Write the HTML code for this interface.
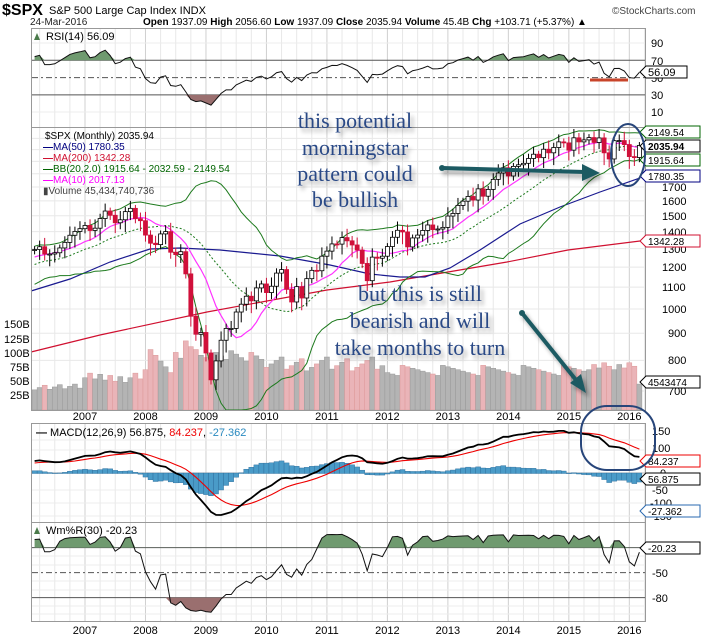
<!DOCTYPE html>
<html><head><meta charset="utf-8"><style>
body{margin:0;background:#fff;}
svg{display:block;font-family:"Liberation Sans",sans-serif;}
.ax{font-size:11px;fill:#000}
.ann{font-family:"Liberation Serif",serif;font-size:22px;fill:#2b4a86;text-anchor:middle}
</style></head><body>
<svg id="c" width="707" height="643" viewBox="0 0 707 643" xmlns="http://www.w3.org/2000/svg">
<defs><filter id="sh" x="-10%" y="-30%" width="130%" height="180%"><feGaussianBlur in="SourceAlpha" stdDeviation="2"/><feOffset dx="3" dy="4"/><feComponentTransfer><feFuncA type="linear" slope="0.35"/></feComponentTransfer><feMerge><feMergeNode/><feMergeNode in="SourceGraphic"/></feMerge></filter></defs>
<rect width="707" height="643" fill="#fff"/>
<g id="grid"></g>
<g id="data"></g>
<g fill="none" stroke="#999" stroke-width="1">
<rect x="31.5" y="28.5" width="614" height="99"/>
<rect x="31.5" y="127.5" width="614" height="283"/>
<rect x="31.5" y="423.5" width="614" height="99"/>
<rect x="31.5" y="522.5" width="614" height="99"/>
</g>
<text x="2" y="15" font-size="16" font-weight="bold">$SPX</text>
<text x="49" y="14" font-size="11">S&amp;P 500 Large Cap Index  INDX</text>
<text x="612" y="14" font-size="10" fill="#444">©StockCharts.com</text>
<text x="30" y="25" font-size="10" fill="#222">24-Mar-2016</text>
<text x="143" y="25" font-size="10"><tspan font-weight="bold">Open</tspan> 1937.09 <tspan font-weight="bold">High</tspan> 2056.60 <tspan font-weight="bold">Low</tspan> 1937.09 <tspan font-weight="bold">Close</tspan> 2035.94 <tspan font-weight="bold">Volume</tspan> 45.4B <tspan font-weight="bold">Chg</tspan> +103.71 (+5.37%) ▲</text>
<text x="46" y="40" font-size="11">RSI(14) 56.09</text>
<path d="M34 40 L37 33 L40 40Z" fill="#4a7a4a"/>
<g class="ax"><text x="651" y="47">90</text><text x="651" y="65">70</text><text x="651" y="82">50</text><text x="651" y="99">30</text><text x="651" y="116">10</text></g>
<path d="M640 72 L646 66 L687 66 L687 78 L646 78Z" fill="#fff" stroke="#000"/><text x="648" y="76" font-size="11">56.09</text>
<g font-size="10">
<text x="45" y="139">$SPX (Monthly) 2035.94</text>
<text x="43" y="150" fill="#000080"><tspan font-weight="bold">—</tspan>MA(50) 1780.35</text>
<text x="43" y="161" fill="#d01030"><tspan font-weight="bold">—</tspan>MA(200) 1342.28</text>
<text x="43" y="172" fill="#006400"><tspan font-weight="bold">—</tspan>BB(20,2.0) 1915.64 - 2032.59 - 2149.54</text>
<text x="43" y="183" fill="#ff00ff"><tspan font-weight="bold">—</tspan>MA(10) 2017.13</text>
<text x="43" y="194" fill="#444">▮Volume 45,434,740,736</text>
</g>
<g class="ax" font-size="10">
<text x="662" y="191">1700</text><text x="662" y="205">1600</text><text x="662" y="220">1500</text><text x="662" y="236">1400</text><text x="662" y="253">1300</text><text x="662" y="271">1200</text><text x="662" y="291">1100</text><text x="662" y="313">1000</text><text x="668" y="337">900</text><text x="668" y="364">800</text><text x="668" y="395">700</text>
<text x="4" y="328">150B</text><text x="4" y="343">125B</text><text x="4" y="357">100B</text><text x="10" y="371">75B</text><text x="10" y="385">50B</text><text x="10" y="399">25B</text>
</g>
<g font-size="10">
<path d="M640 132 L646 126 L700 126 L700 138 L646 138Z" fill="#fff" stroke="#006400"/><text x="648" y="136" fill="#000">2149.54</text>
<path d="M640 146 L646 140 L700 140 L700 152 L646 152Z" fill="#fff" stroke="#000"/><text x="648" y="150" font-weight="bold">2035.94</text>
<path d="M640 160 L646 154 L700 154 L700 166 L646 166Z" fill="#fff" stroke="#006400"/><text x="648" y="164">1915.64</text>
<path d="M640 176 L646 170 L700 170 L700 182 L646 182Z" fill="#fff" stroke="#000080"/><text x="648" y="180">1780.35</text>
<path d="M640 241 L646 235 L700 235 L700 247 L646 247Z" fill="#fff" stroke="#d01030"/><text x="648" y="245">1342.28</text>
<path d="M640 382 L646 376 L700 376 L700 388 L646 388Z" fill="#fff" stroke="#000"/><text x="648" y="386">4543474</text>
</g>
<g class="ax" text-anchor="middle" id="xl1"></g>
<text x="36" y="436" font-size="11"><tspan font-weight="bold">—</tspan> MACD(12,26,9) 56.875, <tspan fill="#e00">84.237</tspan>, <tspan fill="#2a8ac0">-27.362</tspan></text>
<g class="ax" font-size="10"><text x="652" y="435">150</text><text x="652" y="452">100</text><text x="660" y="477">0</text><text x="652" y="494">-50</text><text x="650" y="507">-100</text><text x="650" y="520">-150</text></g>
<g font-size="10">
<path d="M640 461 L646 455 L700 455 L700 467 L646 467Z" fill="#fff" stroke="#e00"/><text x="648" y="465">84.237</text>
<path d="M640 479 L646 473 L700 473 L700 485 L646 485Z" fill="#fff" stroke="#000"/><text x="648" y="483">56.875</text>
<path d="M640 511 L646 505 L700 505 L700 517 L646 517Z" fill="#fff" stroke="#2a6ab0"/><text x="648" y="515">-27.362</text>
</g>
<text x="46" y="534" font-size="11">Wm%R(30) -20.23</text>
<path d="M34 534 L37 527 L40 534Z" fill="#4a7a4a"/>
<g class="ax" font-size="10"><text x="652" y="577">-50</text><text x="652" y="602">-80</text></g>
<path d="M640 548 L646 542 L700 542 L700 554 L646 554Z" fill="#fff" stroke="#000"/><text x="648" y="552" font-size="10">-20.23</text>
<g class="ax" text-anchor="middle" id="xl2"></g>
<g filter="url(#sh)">
<text class="ann" x="355" y="128">this potential</text>
<text class="ann" x="355" y="155">morningstar</text>
<text class="ann" x="355" y="181">pattern could</text>
<text class="ann" x="355" y="207">be bullish</text>
<text class="ann" x="420" y="301">but this is still</text>
<text class="ann" x="420" y="328">bearish and will</text>
<text class="ann" x="420" y="355">take months to turn</text>
</g>
<g stroke="#1d5a62" stroke-width="4" fill="#1d5a62" filter="url(#sh)">
<line x1="442" y1="168" x2="585" y2="172"/><path d="M600 173 L582 164 L582 181Z" stroke="none"/>
<circle cx="442" cy="168" r="3" stroke="none"/>
<line x1="522" y1="313" x2="576" y2="380"/><path d="M586 393 L570 383 L581 374Z" stroke="none"/>
<circle cx="522" cy="313" r="3" stroke="none"/>
</g>
<g fill="none" stroke="#27457a" stroke-width="2">
<ellipse cx="628" cy="155" rx="17" ry="31"/>
<rect x="581" y="406" width="74" height="64" rx="26"/>
</g>
</svg>
<script>
const NS="http://www.w3.org/2000/svg";
function el(p,t,a){const e=document.createElementNS(NS,t);for(const k in a)e.setAttribute(k,a[k]);document.getElementById(p).appendChild(e);return e;}
const pre=[1101,1104,1114,1130,1174,1212,1181,1204,1181,1157,1192,1191,1234,1220,1228,1207,1249,1249,1280,1281,1294];
const c=[1295,1311,1270,1270,1277,1304,1336,1378,1401,1418,
1438,1407,1421,1482,1531,1503,1455,1474,1527,1549,1481,1468,
1379,1331,1323,1386,1400,1280,1267,1283,1165,969,896,903,
826,735,798,873,919,919,987,1021,1057,1036,1096,1115,
1074,1104,1169,1187,1089,1031,1102,1049,1141,1183,1181,1258,
1286,1327,1326,1364,1345,1321,1292,1219,1131,1253,1247,1258,
1312,1366,1408,1398,1310,1362,1379,1407,1441,1412,1416,1426,
1498,1515,1569,1598,1631,1606,1686,1633,1682,1757,1806,1848,
1783,1859,1872,1884,1924,1960,1931,2003,1972,2018,2068,2059,
1995,2105,2068,2086,2107,2063,2104,1972,1920,2079,2080,2044,1940,1932,2036];
const all=pre.concat(c), P=pre.length, N=c.length;
const X=i=>34.6+i*5.04;
const Y=p=>309-230*Math.log(p/1000);
for(let i=-2;i<N+2;i+=3){const x=X(i);if(x<32||x>645)continue;
 [[29,127],[128,410],[424,522],[523,621]].forEach(r=>el("grid","line",{x1:x,x2:x,y1:r[0],y2:r[1],stroke:i%12==10?"#d0d0d0":"#e8e8e8"}));}
[1100,1200,1300,1400,1500,1600,1700,1800,1900,2000,2100,1000,900,800,700].forEach(p=>el("grid","line",{x1:32,x2:645,y1:Y(p),y2:Y(p),stroke:"#e8e8e8"}));
[43,112,440,450,490,503,516,556,565,581,590,606,614].forEach(y=>el("grid","line",{x1:32,x2:645,y1:y,y2:y,stroke:"#ececec"}));
for(let yr=2007;yr<=2016;yr++){const x=X(10+(yr-2007)*12);
 let t=el("xl1","text",{x:x,y:420});t.textContent=yr;t=el("xl2","text",{x:x,y:634});t.textContent=yr;}
const vol=[];for(let i=0;i<N;i++){let v=40+((i*37)%11)-5;if(i>=10&&i<22)v=48+((i*13)%9)*2;if(i>=22&&i<34)v=65+((i*7)%9)*5+(i==30||i==31?40:0);if(i>=34&&i<46)v=85+((i*5)%7)*3;if(i>=46&&i<70)v=68+((i*11)%9)*3;if(i>=70)v=60+((i*7)%8)*2.5;if(i>=110)v=70+((i*3)%5)*3;v=Math.min(v,135);if(i==N-1)v=45;vol.push(v);}
for(let i=0;i<N;i++){const up=c[i]>=all[P+i-1];const h=vol[i]*0.576;el("data","rect",{x:X(i)-2.5,y:410-h,width:5,height:h,fill:up?"#b4b4b4":"#eab4b8",stroke:up?"#999":"#d99","stroke-width":0.5});}
function path(pts,a){let d="";pts.forEach((p,k)=>{if(p)d+=(d?"L":"M")+p[0].toFixed(1)+" "+p[1].toFixed(1);});a.d=d;a.fill="none";return el("data","path",a);}
path([[31,352],[100,335],[207,312],[327,290],[390,282],[448,272],[507,262],[568,250],[640,241]],{stroke:"#d01030","stroke-width":1.2});
path([[31,291],[70,279],[110,262],[150,249],[180,248],[220,250],[280,256],[330,265],[370,274],[400,277],[425,277],[450,268],[480,250],[520,224],[560,207],[600,192],[640,178]],{stroke:"#1a1a90","stroke-width":1.2});
const ma10=[],bbm=[],bbu=[],bbl=[];
for(let i=0;i<N;i++){const j=P+i;let s=0;for(let k=j-9;k<=j;k++)s+=all[k];ma10.push([X(i),Y(s/10)]);
 let m=0;for(let k=j-19;k<=j;k++)m+=all[k];m/=20;let v=0;for(let k=j-19;k<=j;k++)v+=(all[k]-m)**2;const sd=Math.sqrt(v/20);
 bbm.push([X(i),Y(m)]);bbu.push([X(i),Y(m+2*sd)]);bbl.push([X(i),Math.min(Y(Math.max(m-2*sd,300)),410)]);}
path(bbu,{stroke:"#1d7a1d","stroke-width":1});path(bbl,{stroke:"#1d7a1d","stroke-width":1});
path(bbm,{stroke:"#1d7a1d","stroke-width":1,"stroke-dasharray":"2,2"});
path(ma10,{stroke:"#ff33ff","stroke-width":1.2});
for(let i=0;i<N;i++){const o=all[P+i-1],cl=c[i];const hi=Math.max(o,cl)*(1+0.015+((i*7)%5)*0.006),lo=Math.min(o,cl)*(1-0.02-((i*3)%5)*0.008);
 const up=cl>=o,x=X(i),col=up?"#000":"#d0103a";
 el("data","line",{x1:x,x2:x,y1:Y(hi),y2:Y(lo),stroke:col});
 const t=Y(Math.max(o,cl)),b=Y(Math.min(o,cl));
 el("data","rect",{x:x-2,y:t,width:4,height:Math.max(b-t,1),fill:up?"#fff":"#d0103a",stroke:col,"stroke-width":0.8});}
let ag=0,al=0;for(let k=1;k<=14;k++){const d=all[k]-all[k-1];if(d>0)ag+=d;else al-=d;}ag/=14;al/=14;
const rsi=[];for(let j=15;j<all.length;j++){const d=all[j]-all[j-1];ag=(ag*13+Math.max(d,0))/14;al=(al*13+Math.max(-d,0))/14;if(j>=P)rsi.push(100-100/(1+ag/al));}
const ry=v=>43+(90-v)*0.865;
[ry(70),ry(30)].forEach(y=>el("grid","line",{x1:32,x2:645,y1:y,y2:y,stroke:"#555"}));
el("grid","line",{x1:32,x2:645,y1:ry(50),y2:ry(50),stroke:"#555","stroke-dasharray":"6,3,2,3"});
function fillBand(vals,fy,th,above,col){let d="";vals.forEach((v,i)=>{const vv=above?Math.max(v,th):Math.min(v,th);d+=(i?"L":"M")+X(i).toFixed(1)+" "+fy(vv).toFixed(1);});d+="L"+X(N-1)+" "+fy(th)+"L"+X(0)+" "+fy(th)+"Z";el("data","path",{d:d,fill:col});}
fillBand(rsi,ry,70,true,"#6f9a6f");fillBand(rsi,ry,30,false,"#9a6f6f");
path(rsi.map((v,i)=>[X(i),ry(v)]),{stroke:"#111","stroke-width":1});
el("data","line",{x1:590,x2:628,y1:80,y2:80,stroke:"#c8442a","stroke-width":3});
let e12=all[0],e26=all[0];const mac=[];
all.forEach(p=>{e12=e12+(p-e12)*2/13;e26=e26+(p-e26)*2/27;mac.push(e12-e26);});
let sg=mac[P-5];const sig=[];mac.forEach(m=>{sg=sg+(m-sg)*0.2;sig.push(sg);});
const my=v=>473-v*0.284;
el("grid","line",{x1:32,x2:645,y1:473,y2:473,stroke:"#bbb"});
for(let i=0;i<N;i++){const h=mac[P+i]-sig[P+i];const y=my(h*1.1);el("data","rect",{x:X(i)-2.5,y:Math.min(y,473),width:5,height:Math.abs(y-473)+0.5,fill:"#4a9bc8",stroke:"#2a6a98","stroke-width":0.4});}
path(sig.slice(P).map((v,i)=>[X(i),my(v)]),{stroke:"#e00","stroke-width":1.1});
path(mac.slice(P).map((v,i)=>[X(i),my(v)]),{stroke:"#000","stroke-width":1.8});
const W=v=>531+(-v)*0.833;
const wr=[];for(let i=0;i<N;i++){const j=P+i;let hi=-1e9,lo=1e9;for(let k=Math.max(0,j-29);k<=j;k++){hi=Math.max(hi,all[k]*1.02);lo=Math.min(lo,all[k]*0.97);}wr.push(-100*(hi-all[j])/(hi-lo));}
el("grid","line",{x1:32,x2:645,y1:W(-20),y2:W(-20),stroke:"#555"});
el("grid","line",{x1:32,x2:645,y1:W(-80),y2:W(-80),stroke:"#555"});
el("grid","line",{x1:32,x2:645,y1:W(-50),y2:W(-50),stroke:"#555","stroke-dasharray":"6,3,2,3"});
fillBand(wr,W,-20,true,"#6f9a6f");fillBand(wr,W,-80,false,"#9a6f6f");
path(wr.map((v,i)=>[X(i),W(v)]),{stroke:"#111","stroke-width":1});
</script>
</body></html>
